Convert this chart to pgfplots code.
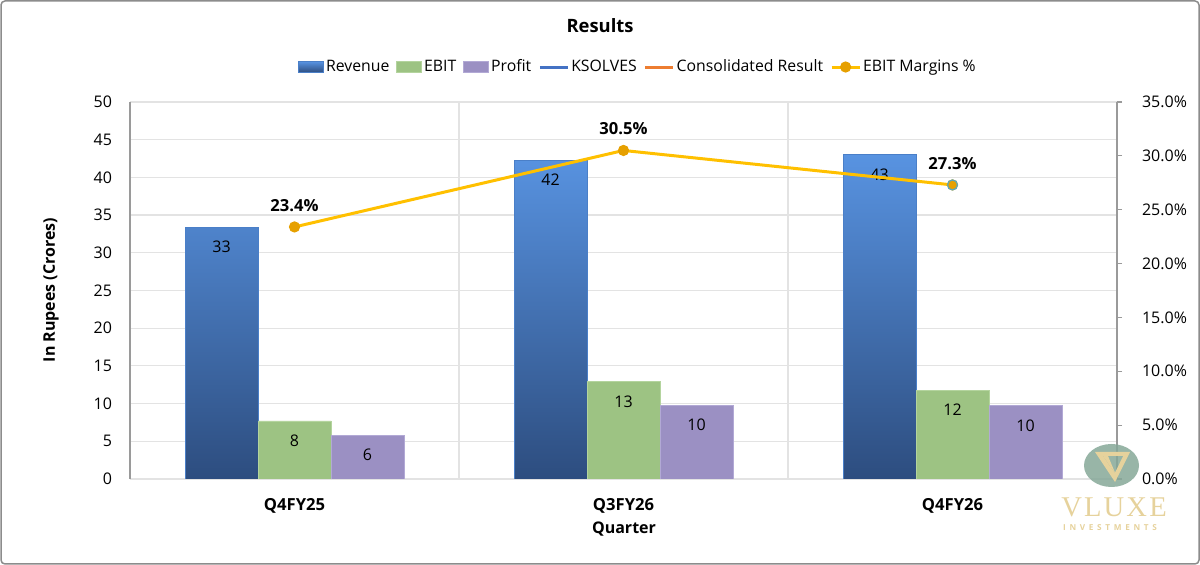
\documentclass[border=0pt]{standalone}
\usepackage{fontspec}
\setmainfont{Open Sans}
\newfontfamily\wmserif[LetterSpace=7.5]{Liberation Serif}
\newfontfamily\wmsans[LetterSpace=45]{Open Sans}
\usepackage{pgfplots}
\pgfplotsset{compat=1.18}

\definecolor{revtop}{HTML}{5893E1}
\definecolor{revbot}{HTML}{2D4D7F}
\definecolor{revedge}{HTML}{4A7FC8}
\definecolor{ebitfill}{HTML}{9DC383}
\definecolor{ebitedge}{HTML}{B4D49E}
\definecolor{proffill}{HTML}{9B90C3}
\definecolor{profedge}{HTML}{B2A9D5}
\definecolor{ksolves}{HTML}{4472C4}
\definecolor{consol}{HTML}{ED7D31}
\definecolor{margin}{HTML}{FFC000}
\definecolor{markfill}{HTML}{E6A000}
\definecolor{markteal}{HTML}{5AA7BC}
\definecolor{gridgray}{HTML}{E3E3E3}
\definecolor{axisgray}{HTML}{9A9A9A}
\definecolor{bordergray}{HTML}{8C8C8C}
\definecolor{wmgreen}{HTML}{86A898}
\definecolor{wmcream}{HTML}{E6D29C}

\pgfplotsset{
  /pgf/number format/assume math mode=true,
  revstyle/.style={draw=revedge, line width=0.4pt, top color=revtop, bottom color=revbot},
  ebitstyle/.style={draw=ebitedge, line width=0.4pt, fill=ebitfill},
  profstyle/.style={draw=profedge, line width=0.4pt, fill=proffill},
  barlegend/.style={legend image code/.code={\draw[##1] (0pt,-2.75pt) rectangle (12.5pt,2.75pt);}},
  linelegend/.style={legend image code/.code={\draw[##1] (0pt,0pt) -- (14pt,0pt);}},
  marklegend/.style={legend image code/.code={\draw[mark repeat=2,mark phase=2,##1] plot coordinates {(0pt,0pt) (7pt,0pt) (14pt,0pt)};}},
}

\begin{document}
\begin{tikzpicture}
\useasboundingbox (0,0) rectangle (600pt,282.5pt);

% Bars: Revenue, EBIT and Profit in crores (left axis)
\begin{axis}[
  at={(65pt,43pt)}, anchor=south west,
  scale only axis, width=493.5pt, height=188.5pt,
  xmin=-0.5, xmax=2.5, ymin=0, ymax=50,
  ytick={0,5,...,50},
  xtick={0,1,2}, xticklabels={Q4FY25,Q3FY26,Q4FY26},
  minor xtick={0.5,1.5},
  xminorgrids, ymajorgrids,
  grid style={draw=gridgray, line width=0.6pt},
  minor grid style={draw=gridgray, line width=0.6pt},
  axis x line*=bottom, axis y line*=left,
  x axis line style={draw=none},
  y axis line style={draw=axisgray, line width=0.6pt},
  major tick length=0pt, minor tick length=0pt,
  tick label style={font=\fontsize{8}{10}\selectfont},
  xticklabel style={font=\bfseries\fontsize{8.3}{10}\selectfont, anchor=base, yshift=-15.8pt},
  yticklabel style={anchor=east, xshift=-5.5pt},
  ybar=0pt, bar width=36.5pt,
  nodes near coords,
  every node near coord/.append style={anchor=north, yshift=-3.5pt, black,
    font=\fontsize{8}{10}\selectfont,
    /pgf/number format/fixed, /pgf/number format/precision=0},
]
\addplot[revstyle] coordinates {(0,33.4) (1,42.3) (2,43.0)};
\addplot[ebitstyle] coordinates {(0,7.7) (1,12.9) (2,11.8)};
\addplot[profstyle] coordinates {(0,5.8) (1,9.8) (2,9.7)};
\end{axis}

% EBIT margin line (right axis) and the legend
\begin{axis}[
  at={(65pt,43pt)}, anchor=south west,
  scale only axis, width=493.5pt, height=188.5pt,
  xmin=-0.5, xmax=2.5, ymin=0, ymax=35,
  ytick={0,5,...,35},
  axis x line=none, axis y line*=right,
  y axis line style={draw=axisgray, line width=0.6pt},
  ytick style={draw=axisgray, line width=0.6pt},
  tick align=outside, major tick length=2.5pt,
  tick label style={font=\fontsize{8}{10}\selectfont},
  yticklabel={\pgfmathprintnumber[fixed,fixed zerofill,precision=1]{\tick}\%},
  yticklabel style={anchor=west, xshift=6.5pt},
  legend style={at={(0.5147,1.0928)}, anchor=center, draw=none, fill=none,
    font=\fontsize{7.9}{10}\selectfont, legend columns=-1,
    nodes={inner xsep=1pt, inner ysep=1pt},
    /tikz/every even column/.append style={column sep=2.5pt}},
]
\addlegendimage{barlegend, revstyle}
\addlegendentry{Revenue}
\addlegendimage{barlegend, ebitstyle}
\addlegendentry{EBIT}
\addlegendimage{barlegend, profstyle}
\addlegendentry{Profit}
\addlegendimage{linelegend, draw=ksolves, line width=1.5pt}
\addlegendentry{KSOLVES}
\addlegendimage{linelegend, draw=consol, line width=1.5pt}
\addlegendentry{Consolidated Result}
\addplot[marklegend, color=margin, line width=1.5pt, mark=*, mark size=2.5pt,
  mark options={fill=markfill, draw=markfill, line width=0.6pt},
  nodes near coords={\pgfmathprintnumber[fixed,fixed zerofill,precision=1]{\pgfplotspointmeta}\%},
  every node near coord/.append style={anchor=south, yshift=4.2pt, black,
    font=\bfseries\fontsize{8.3}{10}\selectfont}]
  coordinates {(0,23.4) (1,30.5) (2,27.3)};
\addlegendentry{EBIT Margins \%}
\addplot[forget plot, only marks, mark=*, mark size=2.5pt,
  mark options={fill=markfill, draw=markteal, line width=0.6pt}]
  coordinates {(2,27.3)};
\end{axis}

% Titles
\node[font=\bfseries\fontsize{9.2}{11}\selectfont] at (300pt,269.5pt) {Results};
\node[rotate=90, font=\bfseries\fontsize{8}{10}\selectfont] at (25.5pt,137.5pt) {In Rupees (Crores)};
\node[font=\bfseries\fontsize{8}{10}\selectfont] at (312pt,18pt) {Quarter};

% Watermark
\fill[wmgreen, opacity=0.85] (555.75pt,49.75pt) ellipse [x radius=13.75pt, y radius=10.75pt];
\fill[wmcream, even odd rule]
  (547.5pt,56.5pt) -- (565pt,56.5pt) -- (557.5pt,41.5pt) -- cycle
  (551.5pt,54.5pt) -- (561.6pt,54.5pt) -- (557.4pt,46pt) -- cycle;
\fill[wmcream] (551.5pt,54.5pt) -- (554pt,54.5pt) -- (558pt,45pt) -- (557.4pt,46pt) -- cycle;
\node[text=wmcream, font=\wmserif\fontsize{14.3}{15}\selectfont] at (557pt,28.75pt) {VLUXE};
\node[text=wmcream, font=\wmsans\bfseries\fontsize{4.1}{5}\selectfont] at (555pt,18.75pt) {INVESTMENTS};

% Frame
\draw[bordergray, line width=0.75pt, rounded corners=2pt] (0.5pt,0.5pt) rectangle (599.5pt,282pt);
\end{tikzpicture}
\end{document}
